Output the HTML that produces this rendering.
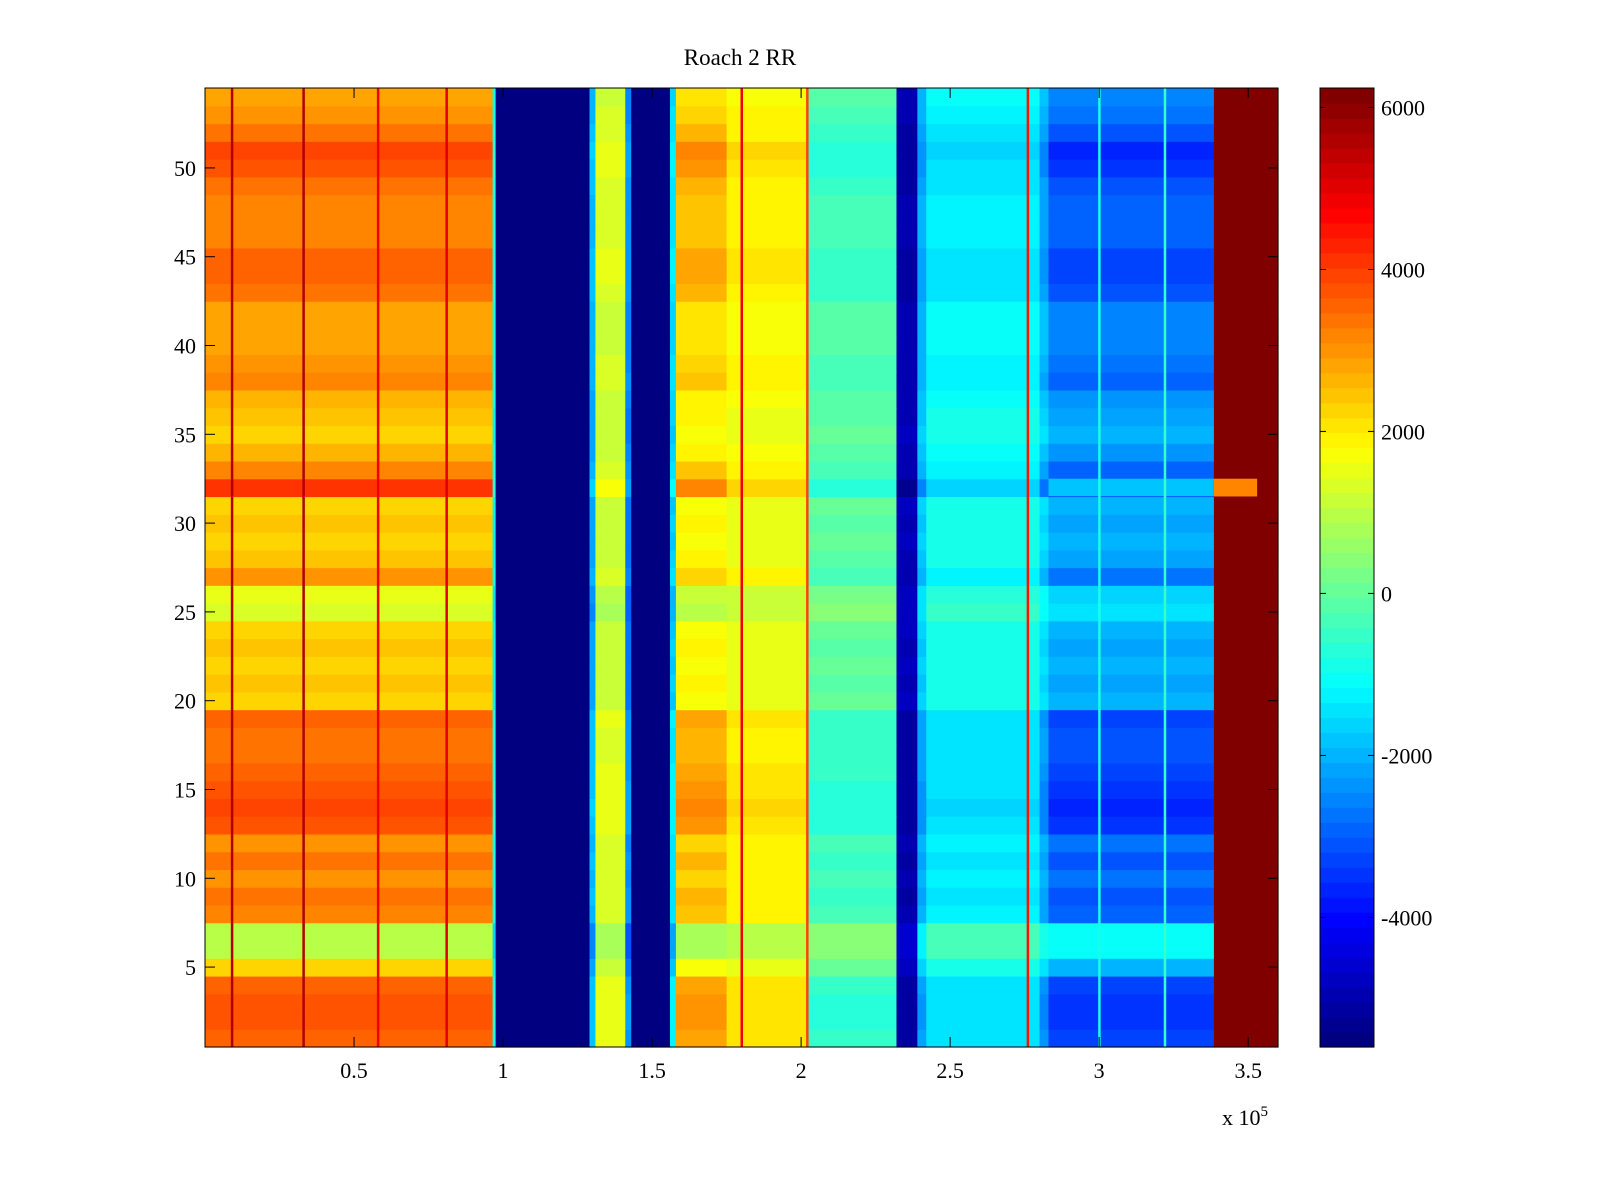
<!DOCTYPE html>
<html><head><meta charset="utf-8">
<style>
html,body{margin:0;padding:0;background:#fff;}
svg{display:block;font-family:"Liberation Serif",serif;}
</style></head>
<body>
<svg id="chart" width="1600" height="1200" viewBox="0 0 1600 1200">
<rect width="1600" height="1200" fill="#fff"/>
<text x="740" y="65" font-size="23" text-anchor="middle">Roach 2 RR</text>
<g id="cells"></g>
<g id="cbar"></g>
<g id="axes"></g>
<text x="1222" y="1125" font-size="22">x 10<tspan dy="-9" font-size="15">5</tspan></text>
</svg>
<script>
// ---- data ----
const segEdges = [0,0.965,0.975,1.29,1.31,1.41,1.43,1.56,1.58,1.75,2.02,2.32,2.39,2.42,2.8,2.83,3.385,3.6];
const segValues = [3000,-1000,-5600,-2000,1300,-2500,-5600,-1500,2300,1800,-300,-5000,-2000,-1200,-2000,-2800,6240];
const segScales = [1,0.3,0,0.3,0.3,0.3,0,0.3,0.8,0.4,-0.4,-0.2,-0.4,-0.4,-0.6,-0.9,0];
const rowOffsets = [600,800,800,600,-800,-2000,-2000,200,400,0,400,0,800,1000,800,600,400,400,600,-800,-600,-800,-600,-800,-1600,-1400,0,-600,-800,-600,-800,1200,200,-400,-800,-600,-400,200,0,-200,-200,-200,400,600,600,200,200,200,400,800,1000,400,0,-200];
const lineX = [0.09,0.33,0.58,0.81,1.80,2.02,2.76,3.0,3.22];
const lineValues = [5500,5500,4800,5000,4800,4000,4500,-800,-500];
const patchRows = [32,32];
const patchX0 = [3.385,2.83];
const patchX1 = [3.53,3.385];
const patchValues = [3200,-1900];
const xTicks = [0.5,1,1.5,2,2.5,3,3.5];
const xTickLabels = ["0.5","1","1.5","2","2.5","3","3.5"];
const yTicks = [5,10,15,20,25,30,35,40,45,50];
const cTicks = [-4000,-2000,0,2000,4000,6000];
const cMin = -5600, cMax = 6240;

// ---- geometry ----
const L=205,R=1278,T=88,B=1047;
const xs = v => L + (v-0)/(3.6-0)*(R-L);
const ys = v => B - (v-0.5)/(54.5-0.5)*(B-T);
const NS="http://www.w3.org/2000/svg";
function jet(v){
  let t=(v-cMin)/(cMax-cMin); t=Math.max(0,Math.min(1,t));
  t=Math.min(63,Math.floor(t*64))/63;
  const c=x=>Math.round(255*Math.max(0,Math.min(1,x)));
  return `rgb(${c(1.5-Math.abs(4*t-3))},${c(1.5-Math.abs(4*t-2))},${c(1.5-Math.abs(4*t-1))})`;
}
function mk(tag,attrs,parent){const e=document.createElementNS(NS,tag);for(const k in attrs)e.setAttribute(k,attrs[k]);parent.appendChild(e);return e;}
const cells=document.getElementById('cells');
for(let r=0;r<rowOffsets.length;r++){
  const y0=ys(r+1.5), y1=ys(r+0.5);
  for(let s=0;s<segValues.length;s++){
    const x0=xs(segEdges[s]), x1=xs(segEdges[s+1]);
    const e=mk('rect',{x:x0,y:y0,width:x1-x0+0.6,height:y1-y0+0.6,fill:jet(segValues[s]+segScales[s]*rowOffsets[r])},cells);
    
    
  }
}
for(let i=0;i<patchRows.length;i++){
  const e=mk('rect',{x:xs(patchX0[i]),y:ys(patchRows[i]+0.5),width:xs(patchX1[i])-xs(patchX0[i]),height:ys(patchRows[i]-0.5)-ys(patchRows[i]+0.5),fill:jet(patchValues[i])},cells);
  
  
}
for(let i=0;i<lineX.length;i++){
  const e=mk('rect',{x:xs(lineX[i])-1,y:T,width:2.5,height:B-T,fill:jet(lineValues[i])},cells);
  
  
}
// axes
const ax=document.getElementById('axes');
mk('rect',{x:L,y:T,width:R-L,height:B-T,fill:'none',stroke:'#000','stroke-width':1},ax);
xTicks.forEach((v,i)=>{
  const x=xs(v);
  mk('line',{x1:x,x2:x,y1:B,y2:B-10,stroke:'#000'},ax);
  mk('line',{x1:x,x2:x,y1:T,y2:T+10,stroke:'#000'},ax);
  const t=mk('text',{x:x,y:B+31,'font-size':22,'text-anchor':'middle'},ax);
  t.textContent=xTickLabels[i];
  
  
});
yTicks.forEach(v=>{
  const y=ys(v);
  mk('line',{x1:L,x2:L+10,y1:y,y2:y,stroke:'#000'},ax);
  mk('line',{x1:R,x2:R-10,y1:y,y2:y,stroke:'#000'},ax);
  const t=mk('text',{x:L-9,y:y+8,'font-size':22,'text-anchor':'end'},ax);
  t.textContent=String(v);
  
  
});
// colorbar
const cb=document.getElementById('cbar');
const CL=1320,CR=1374;
const cy=v=>B-(v-cMin)/(cMax-cMin)*(B-T);
for(let i=0;i<64;i++){
  const v0=cMin+i*(cMax-cMin)/64, v1=cMin+(i+1)*(cMax-cMin)/64;
  const e=mk('rect',{x:CL,y:cy(v1),width:CR-CL,height:cy(v0)-cy(v1)+0.6,fill:jet((v0+v1)/2)},cb);
  
  
}
mk('rect',{x:CL,y:T,width:CR-CL,height:B-T,fill:'none',stroke:'#000'},cb);
cTicks.forEach(v=>{
  const y=cy(v);
  mk('line',{x1:CL,x2:CL+6,y1:y,y2:y,stroke:'#000'},cb);
  mk('line',{x1:CR,x2:CR-6,y1:y,y2:y,stroke:'#000'},cb);
  const t=mk('text',{x:CR+7,y:y+8,'font-size':22},cb);
  t.textContent=String(v);
  
  
});
</script>
</body></html>
